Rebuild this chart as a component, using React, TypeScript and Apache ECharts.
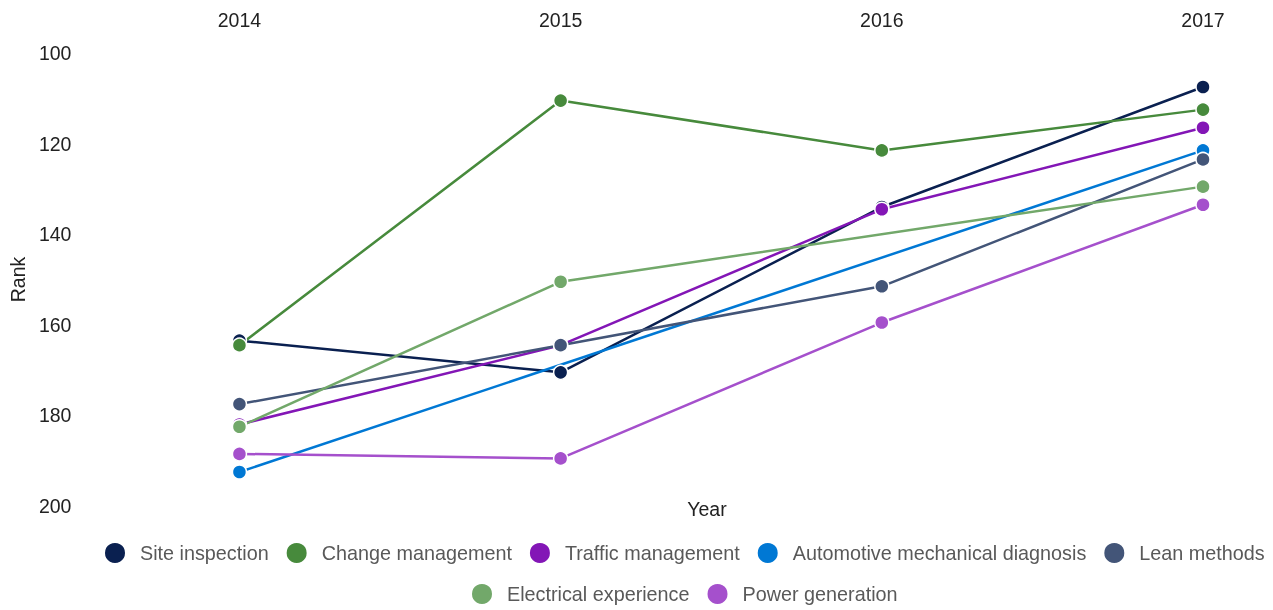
import React, { useEffect, useRef } from "react";
import * as echarts from "echarts";

const years = ["2014", "2015", "2016", "2017"];
const seriesNames = [
  "Site inspection",
  "Change management",
  "Traffic management",
  "Automotive mechanical diagnosis",
  "Lean methods",
  "Electrical experience",
  "Power generation",
];
const siteInspection = [163.5, 170.5, 134, 107.5];
const changeManagement = [164.5, 110.5, 121.5, 112.5];
const trafficManagement = [182, 164.5, 134.5, 116.5];
const automotiveDiagnosis = [192.5, null, null, 121.5];
const leanMethods = [177.5, 164.5, 151.5, 123.5];
const electricalExperience = [182.5, 150.5, null, 129.5];
const powerGeneration = [188.5, 189.5, 159.5, 133.5];
const colors = ["#0a2050", "#478a3c", "#8316b6", "#0078d4", "#435578", "#72a86a", "#a550cc"];
const yTicks = { min: 100, max: 200, interval: 20 };

const allData = [
  siteInspection,
  changeManagement,
  trafficManagement,
  automotiveDiagnosis,
  leanMethods,
  electricalExperience,
  powerGeneration,
];

export default function App() {
  const ref = useRef<HTMLDivElement>(null);
  useEffect(() => {
    if (!ref.current) return;
    const chart = echarts.init(ref.current, undefined, { renderer: "svg" });
    const font = "Liberation Sans, Arial, sans-serif";
    const fs = 19.5;
    const legendBase = {
      icon: "circle",
      itemWidth: 22,
      itemHeight: 22,
      itemGap: 16,
      padding: 0,
      textStyle: { color: "#595959", fontSize: 19.8, fontFamily: font, padding: [0, 0, 0, 9] },
    };
    chart.setOption({
      animation: false,
      textStyle: { fontFamily: font },
      color: colors,
      grid: { left: 238, right: 70, top: 53, bottom: 104 },
      xAxis: {
        type: "category",
        position: "top",
        data: years,
        boundaryGap: false,
        axisLine: { show: false },
        axisTick: { show: false },
        splitLine: { show: false },
        axisLabel: { color: "#222", fontSize: fs, margin: 23, fontFamily: font },
      },
      yAxis: {
        type: "value",
        inverse: true,
        min: yTicks.min,
        max: yTicks.max,
        interval: yTicks.interval,
        axisLine: { show: false },
        axisTick: { show: false },
        splitLine: { show: false },
        axisLabel: { color: "#222", fontSize: fs, margin: 168, fontFamily: font },
        name: "Rank",
        nameLocation: "middle",
        nameGap: 210,
        nameTextStyle: { color: "#222", fontSize: fs, fontFamily: font },
      },
      graphic: [
        {
          type: "text",
          x: 707,
          y: 509,
          style: {
            text: "Year",
            fill: "#222",
            font: `${fs}px ${font}`,
            align: "center",
            verticalAlign: "middle",
          },
        },
      ],
      legend: [
        { ...legendBase, data: seriesNames.slice(0, 5), left: 103, top: 541 },
        { ...legendBase, data: seriesNames.slice(5), left: 470, top: 582 },
      ],
      series: seriesNames.map((name, i) => ({
        name,
        type: "line",
        data: allData[i],
        connectNulls: true,
        symbol: "circle",
        symbolSize: 14,
        lineStyle: { width: 2.5, color: colors[i] },
        itemStyle: { color: colors[i], borderColor: "#fff", borderWidth: 1.5 },
        emphasis: { disabled: true },
      })),
    });
    return () => chart.dispose();
  }, []);
  return (
    <div
      ref={ref}
      style={{ position: "fixed", left: 0, top: 0, width: 1273, height: 610 }}
    />
  );
}
